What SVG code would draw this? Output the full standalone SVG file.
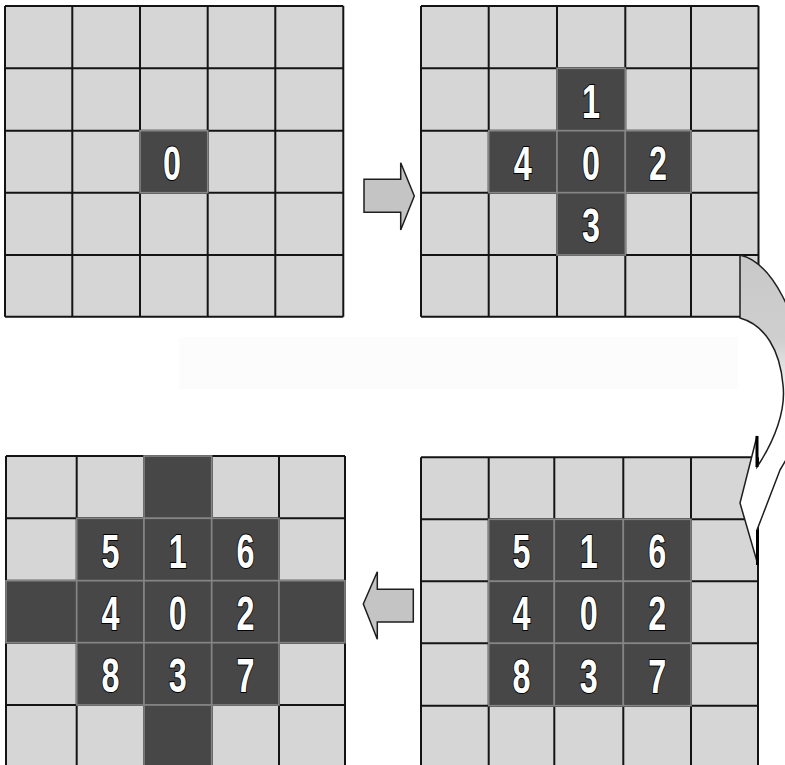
<svg xmlns="http://www.w3.org/2000/svg" width="785" height="765" viewBox="0 0 785 765">
<style>
.bg{fill:#d6d6d6}
.ln{fill:none;stroke:#141414;stroke-width:2}
.dk{fill:#474747;stroke:#858585;stroke-width:1.6}
.num{font-family:"Liberation Sans",Arial,sans-serif;font-weight:bold;font-size:48px;fill:#fff;stroke:#000;stroke-width:2;paint-order:stroke;text-anchor:middle}
.arr{fill:#c4c4c4;stroke:#1e1e1e;stroke-width:1.5;stroke-linejoin:miter}
</style>
<defs>
<linearGradient id="cg" gradientUnits="userSpaceOnUse" x1="0" y1="255" x2="0" y2="410">
<stop offset="0" stop-color="#c8c8c8"/>
<stop offset="0.55" stop-color="#cfcfcf"/>
<stop offset="1" stop-color="#ffffff"/>
</linearGradient>
</defs>
<rect x="0" y="0" width="785" height="765" fill="#ffffff"/>
<rect id="band" x="179" y="337" width="559" height="52" fill="#fcfcfc"/>

<g id="grid1">
<rect class="bg" x="5" y="6" width="338.3" height="310.7"/>
<path class="ln" d="M5 6V316.7M72.3 6V316.7M140 6V316.7M207.7 6V316.7M275.3 6V316.7M343.3 6V316.7M5 6H343.3M5 68.3H343.3M5 130.7H343.3M5 192.7H343.3M5 255H343.3M5 316.7H343.3"/>
<rect class="dk" x="140" y="130.7" width="67.7" height="62"/>
<text class="num" x="172" y="179.7" textLength="18" lengthAdjust="spacingAndGlyphs">0</text>
</g>

<g id="grid2">
<rect class="bg" x="421" y="6" width="337.5" height="310.7"/>
<path class="ln" d="M421 6V316.7M488.7 6V316.7M557 6V316.7M625.3 6V316.7M691 6V316.7M758.5 6V316.7M421 6H758.5M421 68.3H758.5M421 130.7H758.5M421 192.7H758.5M421 255H758.5M421 316.7H758.5"/>
<rect class="dk" x="557" y="68.3" width="68.3" height="62.4"/>
<rect class="dk" x="488.7" y="130.7" width="68.3" height="62"/>
<rect class="dk" x="557" y="130.7" width="68.3" height="62"/>
<rect class="dk" x="625.3" y="130.7" width="65.7" height="62"/>
<rect class="dk" x="557" y="192.7" width="68.3" height="62.3"/>
<text class="num" x="591" y="117.5" textLength="18" lengthAdjust="spacingAndGlyphs">1</text>
<text class="num" x="522.8" y="179.7" textLength="18" lengthAdjust="spacingAndGlyphs">4</text>
<text class="num" x="591" y="179.7" textLength="18" lengthAdjust="spacingAndGlyphs">0</text>
<text class="num" x="658" y="179.7" textLength="18" lengthAdjust="spacingAndGlyphs">2</text>
<text class="num" x="591" y="241.8" textLength="18" lengthAdjust="spacingAndGlyphs">3</text>
</g>

<g id="grid3">
<rect class="bg" x="6" y="456" width="339" height="311"/>
<path class="ln" d="M6 456V767M76.7 456V767M144 456V767M211.7 456V767M279 456V767M345 456V767M6 456H345M6 518.3H345M6 580.7H345M6 642.7H345M6 705H345"/>
<rect class="dk" x="144" y="456" width="67.7" height="62.3"/>
<rect class="dk" x="76.7" y="518.3" width="67.3" height="62.4"/>
<rect class="dk" x="144" y="518.3" width="67.7" height="62.4"/>
<rect class="dk" x="211.7" y="518.3" width="67.3" height="62.4"/>
<rect class="dk" x="6" y="580.7" width="70.7" height="62"/>
<rect class="dk" x="76.7" y="580.7" width="67.3" height="62"/>
<rect class="dk" x="144" y="580.7" width="67.7" height="62"/>
<rect class="dk" x="211.7" y="580.7" width="67.3" height="62"/>
<rect class="dk" x="279" y="580.7" width="66" height="62"/>
<rect class="dk" x="76.7" y="642.7" width="67.3" height="62.3"/>
<rect class="dk" x="144" y="642.7" width="67.7" height="62.3"/>
<rect class="dk" x="211.7" y="642.7" width="67.3" height="62.3"/>
<rect class="dk" x="144" y="705" width="67.7" height="62"/>
<text class="num" x="110.4" y="567.5" textLength="18" lengthAdjust="spacingAndGlyphs">5</text>
<text class="num" x="177.8" y="567.5" textLength="18" lengthAdjust="spacingAndGlyphs">1</text>
<text class="num" x="245.4" y="567.5" textLength="18" lengthAdjust="spacingAndGlyphs">6</text>
<text class="num" x="110.4" y="629.7" textLength="18" lengthAdjust="spacingAndGlyphs">4</text>
<text class="num" x="177.8" y="629.7" textLength="18" lengthAdjust="spacingAndGlyphs">0</text>
<text class="num" x="245.4" y="629.7" textLength="18" lengthAdjust="spacingAndGlyphs">2</text>
<text class="num" x="110.4" y="691.8" textLength="18" lengthAdjust="spacingAndGlyphs">8</text>
<text class="num" x="177.8" y="691.8" textLength="18" lengthAdjust="spacingAndGlyphs">3</text>
<text class="num" x="245.4" y="691.8" textLength="18" lengthAdjust="spacingAndGlyphs">7</text>
</g>

<g id="grid4">
<rect class="bg" x="421" y="457.3" width="337" height="311"/>
<path class="ln" d="M421 457.3V768M488.7 457.3V768M554.3 457.3V768M623.3 457.3V768M691 457.3V768M758 457.3V768M421 457.3H758M421 519.3H758M421 581.3H758M421 643.3H758M421 705.7H758"/>
<rect class="dk" x="488.7" y="519.3" width="65.6" height="62"/>
<rect class="dk" x="554.3" y="519.3" width="69" height="62"/>
<rect class="dk" x="623.3" y="519.3" width="67.7" height="62"/>
<rect class="dk" x="488.7" y="581.3" width="65.6" height="62"/>
<rect class="dk" x="554.3" y="581.3" width="69" height="62"/>
<rect class="dk" x="623.3" y="581.3" width="67.7" height="62"/>
<rect class="dk" x="488.7" y="643.3" width="65.6" height="62.4"/>
<rect class="dk" x="554.3" y="643.3" width="69" height="62.4"/>
<rect class="dk" x="623.3" y="643.3" width="67.7" height="62.4"/>
<text class="num" x="521.5" y="568.3" textLength="18" lengthAdjust="spacingAndGlyphs">5</text>
<text class="num" x="588.8" y="568.3" textLength="18" lengthAdjust="spacingAndGlyphs">1</text>
<text class="num" x="657.2" y="568.3" textLength="18" lengthAdjust="spacingAndGlyphs">6</text>
<text class="num" x="521.5" y="630.3" textLength="18" lengthAdjust="spacingAndGlyphs">4</text>
<text class="num" x="588.8" y="630.3" textLength="18" lengthAdjust="spacingAndGlyphs">0</text>
<text class="num" x="657.2" y="630.3" textLength="18" lengthAdjust="spacingAndGlyphs">2</text>
<text class="num" x="521.5" y="692.5" textLength="18" lengthAdjust="spacingAndGlyphs">8</text>
<text class="num" x="588.8" y="692.5" textLength="18" lengthAdjust="spacingAndGlyphs">3</text>
<text class="num" x="657.2" y="692.5" textLength="18" lengthAdjust="spacingAndGlyphs">7</text>
</g>

<g id="connectors">
<path id="arrow-right" class="arr" d="M364 179.3H400.7V162.7L414.3 196L400.7 230V212.3H364Z"/>
<path id="arrow-curved" fill="url(#cg)" stroke="#1e1e1e" stroke-width="1.5" stroke-linejoin="miter" d="M740 255C770 262 800 310 808 395C806 425 795 445 780 470L757 530L758 565L740 503L757 436L757 467C775 440 786 410 783 385C780 350 765 325 740 318Z"/>
<path fill="none" stroke="#000" stroke-width="3" d="M757 436V467M757.5 530V565"/>
<path id="arrow-left" class="arr" d="M413.3 589.3H377.3V571.7L363.3 604L377.3 639.3V622H413.3Z"/>
</g>
</svg>
